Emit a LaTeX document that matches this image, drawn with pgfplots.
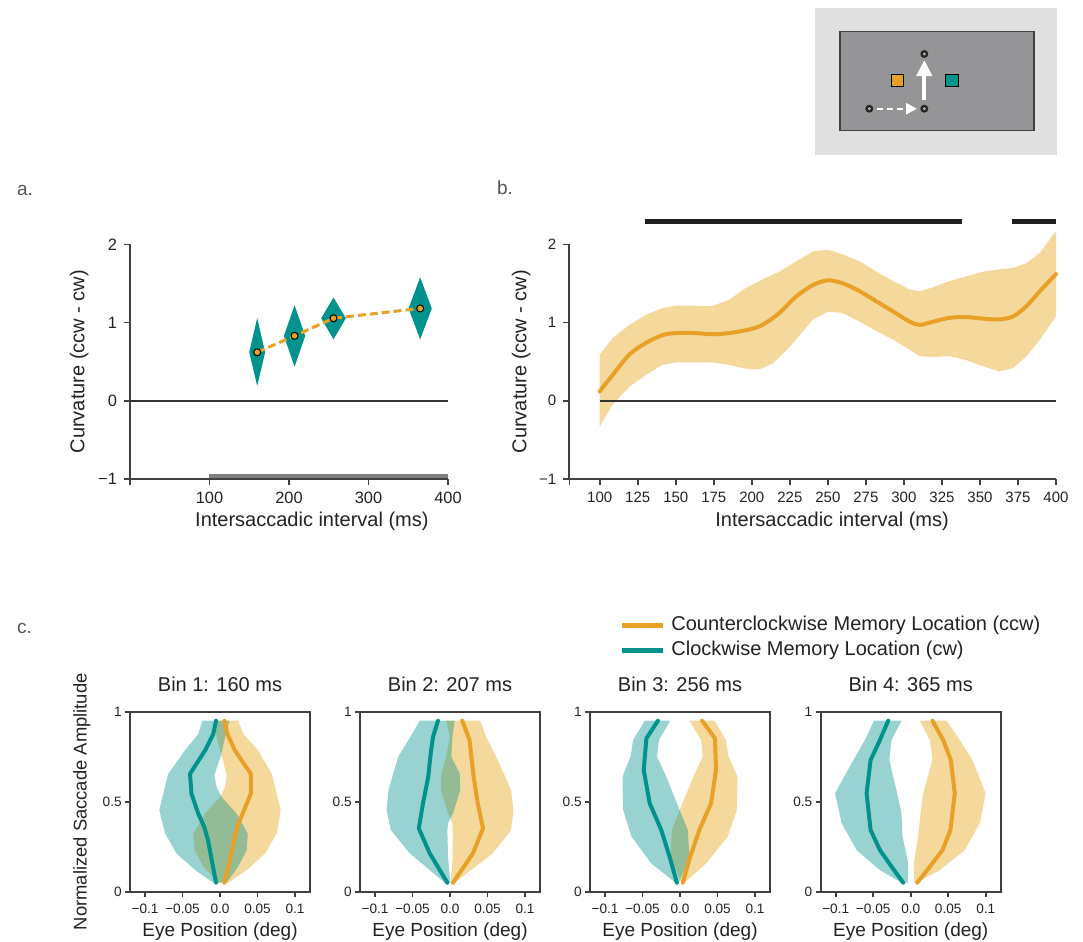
\documentclass[border=0pt]{standalone}
\usepackage{fontspec}
\setmainfont{Liberation Sans}
\usepackage{pgfplots}
\pgfplotsset{compat=1.18}
\usetikzlibrary{arrows.meta}

\definecolor{ccw}{RGB}{232,160,38}
\definecolor{cw}{RGB}{0,146,141}
\definecolor{ccwband}{RGB}{245,216,156}
\definecolor{axgray}{RGB}{64,64,64}
\definecolor{txt}{RGB}{34,34,34}
\definecolor{panellab}{RGB}{85,85,85}
\definecolor{insetout}{RGB}{224,224,224}
\definecolor{insetin}{RGB}{149,149,151}

\pgfplotsset{
  panelab/.style={
    scale only axis, height=117.35pt,
    ymin=-1, ymax=2, ytick={-1,0,1,2}, yticklabels={−1,0,1,2},
    axis x line*=bottom, axis y line*=left,
    axis line style={axgray, line width=1pt, -},
    xtick pos=left, ytick pos=left,
    tick style={axgray, line width=0.8pt}, tick align=outside, major tick length=3pt,
    ticklabel style={text=txt},
    xlabel={Intersaccadic interval (ms)}, ylabel={Curvature (ccw - cw)},
    label style={font=\fontsize{10}{12}\selectfont, text=txt},
    xlabel style={anchor=center}, ylabel style={anchor=center},
    clip=false},
  binax/.style={
    scale only axis, width=90pt, height=90pt,
    xmin=-0.12, xmax=0.12, ymin=0, ymax=1,
    xtick={-0.1,-0.05,0,0.05,0.1}, xticklabels={−0.1,−0.05,0.0,0.05,0.1},
    ytick={0,0.5,1}, yticklabels={0,0.5,1},
    xtick pos=left, ytick pos=left,
    axis line style={axgray, line width=1pt},
    tick style={axgray, line width=0.8pt}, tick align=outside, major tick length=2.5pt,
    ticklabel style={font=\fontsize{6.8}{8}\selectfont, text=txt},
    yticklabel style={inner sep=1.5pt},
    xlabel={Eye Position (deg)},
    xlabel style={font=\fontsize{9.5}{11}\selectfont, text=txt,
      at={(axis description cs:0.5,-0.222)}, anchor=center},
    title style={font=\fontsize{10}{12}\selectfont, text=txt,
      at={(axis description cs:0.5,1.087)}, anchor=center}},
  ccwfill/.style={draw=none, fill=ccwband},
  cwfill/.style={draw=none, fill=cw, fill opacity=0.4},
  cwline/.style={cw, line width=2pt, line join=round, line cap=round},
  ccwline/.style={ccw, line width=2pt, line join=round, line cap=round}
}

\begin{document}
\begin{tikzpicture}
\useasboundingbox (0,0) rectangle (541.5pt,-471pt);

% task schematic (top right)
\fill[insetout] (407.5pt,-4.15pt) rectangle (528.35pt,-77.5pt);
\filldraw[fill=insetin, draw=axgray, line width=0.6pt] (420pt,-15.85pt) rectangle (517pt,-65.35pt);
\draw[white, line width=2pt, -{Triangle[length=8pt,width=7.5pt]}] (462.15pt,-50pt) -- (462.15pt,-30pt);
\draw[white, line width=1.2pt, dash pattern=on 3pt off 2pt, -{Triangle[length=5.5pt,width=5.5pt]}]
  (438.5pt,-54.35pt) -- (458.5pt,-54.35pt);
\foreach \p in {(462.15pt,-27pt),(462.15pt,-54.35pt),(434.65pt,-54.35pt)} {
  \fill[black!85] \p circle (2pt);
  \fill[insetin!60!white] \p circle (0.75pt);
}
\filldraw[fill=ccw, draw=black, line width=0.5pt] (445.55pt,-37.05pt) rectangle (451.75pt,-43.25pt);
\filldraw[fill=cw, draw=black, line width=0.5pt] (472.9pt,-37.05pt) rectangle (479.1pt,-43.25pt);

% panel letters
\node[anchor=west, text=panellab, font=\fontsize{9.5}{11}\selectfont] at (5pt,-95pt) {a.};
\node[anchor=west, text=panellab, font=\fontsize{9.5}{11}\selectfont] at (245pt,-94pt) {b.};
\node[anchor=west, text=panellab, font=\fontsize{9.5}{11}\selectfont] at (5pt,-314pt) {c.};

% ---- panel a ----
\begin{axis}[panelab, at={(65pt,-239.5pt)}, width=159pt, xmin=0, xmax=400,
  xtick={0,100,200,300,400}, xticklabels={,100,200,300,400},
  ticklabel style={font=\fontsize{8.2}{9.5}\selectfont},
  xlabel style={at={(axis description cs:0.572,-0.182)}},
  ylabel style={at={(axis description cs:-0.16,0.5)}}]
\addplot[draw=none, fill=black!50] coordinates {(100,-0.99) (400,-0.99) (400,-0.935) (100,-0.935)} --cycle;
\addplot[black!80, line width=0.8pt] coordinates {(0,0) (400,0)};
\addplot[draw=none, fill=cw] coordinates {(150,0.62) (160,1.057) (170,0.62) (160,0.19)} --cycle;
\addplot[draw=none, fill=cw] coordinates {(193.6,0.83) (207,1.22) (220.4,0.83) (207,0.435)} --cycle;
\addplot[draw=none, fill=cw] coordinates {(240.5,1.055) (256,1.32) (271.5,1.055) (256,0.785)} --cycle;
\addplot[draw=none, fill=cw] coordinates {(350.4,1.18) (365,1.578) (379.6,1.18) (365,0.785)} --cycle;
\addplot[ccw, line width=1.5pt, dash pattern=on 4pt off 2pt] coordinates {(160,0.62) (207,0.83) (256,1.055) (365,1.18)};
\addplot[only marks, mark=*, mark size=1.75pt, mark options={fill=ccw, draw=black, line width=0.5pt}]
  coordinates {(160,0.62) (207,0.83) (256,1.055) (365,1.18)};
\end{axis}

% ---- panel b ----
\begin{axis}[panelab, at={(284.65pt,-239.5pt)}, width=243.35pt, xmin=80, xmax=400,
  xtick={80,100,125,150,175,200,225,250,275,300,325,350,375,400},
  xticklabels={,100,125,150,175,200,225,250,275,300,325,350,375,400},
  ticklabel style={font=\fontsize{7.5}{8.5}\selectfont},
  xlabel style={at={(axis description cs:0.54,-0.182)}},
  ylabel style={at={(axis description cs:-0.099,0.5)}}]
% confidence band: upper edge left to right, lower edge right to left
\addplot[draw=none, fill=ccwband] coordinates {
 (100,0.59) (108.5,0.80) (119.5,0.97) (130.4,1.10) (141.4,1.185) (150,1.215) (163,1.215)
 (174,1.21) (185,1.29) (196,1.44) (207,1.55) (218,1.65) (229,1.78) (240.3,1.91) (250,1.93)
 (260,1.87) (271,1.78) (282,1.65) (293,1.53) (304,1.42) (310.5,1.40) (319,1.45) (330,1.53)
 (341,1.59) (352,1.65) (363,1.68) (372,1.70) (380.6,1.76) (389.4,1.89) (400,2.17)
 (400,1.08) (389.4,0.78) (380.6,0.57) (372,0.42) (363,0.375) (352,0.44) (341,0.52) (330,0.57)
 (319,0.56) (310.5,0.57) (304,0.65) (293,0.78) (282,0.89) (271,1.01) (260,1.12) (250,1.14)
 (240.3,1.04) (231.5,0.84) (225,0.69) (214,0.48) (205,0.40) (196,0.41) (185,0.46) (174,0.49)
 (163,0.49) (150,0.49) (141.4,0.46) (130.4,0.33) (119.5,0.18) (108.5,-0.05) (100,-0.33)} --cycle;
\addplot[black!80, line width=0.8pt] coordinates {(100,0) (400,0)};
\addplot[ccwline, smooth] coordinates {
 (100,0.12) (108.5,0.33) (119.5,0.59) (130.4,0.74) (141.4,0.84) (150,0.865) (163,0.865)
 (174,0.85) (185,0.865) (198,0.91) (207,0.97) (218,1.12) (229,1.33) (240.3,1.48) (250,1.54)
 (260,1.50) (271,1.40) (282,1.27) (293,1.14) (304,1.01) (310.5,0.97) (319,1.01) (330,1.06)
 (341,1.07) (352,1.05) (363,1.04) (372,1.08) (380.6,1.21) (389.4,1.40) (400,1.62)};
% significance bars
\addplot[black!88, line width=2.5pt] coordinates {(130,2.29) (338,2.29)};
\addplot[black!88, line width=2.5pt] coordinates {(371,2.29) (400,2.29)};
\end{axis}

% ---- legend for panel c ----
\draw[ccw, line width=2.5pt] (311pt,-312.85pt) -- (331.5pt,-312.85pt);
\draw[cw, line width=2.5pt] (311pt,-325pt) -- (331.5pt,-325pt);
\node[anchor=west, text=txt, font=\fontsize{10}{12}\selectfont, inner sep=0pt] at (335.5pt,-312.85pt) {Counterclockwise Memory Location (ccw)};
\node[anchor=west, text=txt, font=\fontsize{10}{12}\selectfont, inner sep=0pt] at (335.5pt,-325pt) {Clockwise Memory Location (cw)};

% ---- panel c, bin 1 ----
\begin{axis}[binax, at={(65pt,-445.85pt)}, title={Bin 1: 160 ms},
  ylabel={Normalized Saccade Amplitude},
  ylabel style={font=\fontsize{9.2}{11}\selectfont, text=txt, at={(axis description cs:-0.268,0.5)}, anchor=center}]
\addplot[ccwfill] coordinates {
 (-0.0076,0.95) (-0.0044,0.858) (0.0022,0.756) (0.0089,0.646) (0.0067,0.581) (0.0,0.526)
 (-0.02,0.434) (-0.0356,0.323) (-0.034,0.231) (-0.022,0.138) (-0.0022,0.05)
 (0.011,0.05) (0.0356,0.12) (0.06,0.212) (0.0756,0.323) (0.081,0.452) (0.069,0.655)
 (0.051,0.784) (0.031,0.876) (0.0244,0.95)} --cycle;
\addplot[cwfill] coordinates {
 (-0.0236,0.95) (-0.029,0.876) (-0.047,0.784) (-0.069,0.655) (-0.081,0.452) (-0.073,0.323)
 (-0.058,0.212) (-0.033,0.12) (-0.009,0.05)
 (0.0089,0.05) (0.024,0.138) (0.0356,0.231) (0.037,0.323) (0.022,0.434) (0.0022,0.526)
 (-0.0044,0.581) (-0.0076,0.646) (0.0013,0.756) (0.0067,0.858) (0.0124,0.95)} --cycle;
\addplot[cwline] coordinates {
 (-0.0053,0.95) (-0.009,0.876) (-0.02,0.784) (-0.04,0.655) (-0.038,0.544) (-0.029,0.434)
 (-0.021,0.36) (-0.016,0.286) (-0.011,0.175) (-0.0053,0.05)};
\addplot[ccwline] coordinates {
 (0.0058,0.95) (0.0098,0.876) (0.02,0.784) (0.041,0.655) (0.041,0.544) (0.032,0.452)
 (0.023,0.36) (0.0187,0.286) (0.0133,0.175) (0.0058,0.05)};
\end{axis}

% ---- bin 2 ----
\begin{axis}[binax, at={(180pt,-445.85pt)}, title={Bin 2: 207 ms}]
\addplot[ccwfill] coordinates {
 (-0.0049,0.95) (-0.0004,0.861) (-0.0049,0.75) (-0.0115,0.657) (-0.0124,0.565) (-0.0026,0.435)
 (0.0031,0.38) (0.004,0.306) (0.003,0.157) (0.0009,0.05)
 (0.0062,0.05) (0.057,0.213) (0.0815,0.343) (0.0846,0.454) (0.0815,0.565) (0.0616,0.75)
 (0.048,0.861) (0.0403,0.95)} --cycle;
\addplot[cwfill] coordinates {
 (-0.0403,0.95) (-0.0527,0.861) (-0.069,0.75) (-0.082,0.565) (-0.0846,0.454) (-0.079,0.343)
 (-0.0536,0.213) (-0.007,0.05)
 (0.0005,0.05) (-0.0026,0.194) (-0.0035,0.343) (-0.0026,0.38) (0.004,0.435) (0.0137,0.565)
 (0.0129,0.657) (0.0018,0.75) (0.0031,0.861) (0.0062,0.95)} --cycle;
\addplot[cwline] coordinates {
 (-0.016,0.95) (-0.0226,0.861) (-0.0257,0.769) (-0.029,0.639) (-0.036,0.491) (-0.0416,0.352)
 (-0.027,0.213) (-0.0035,0.05)};
\addplot[ccwline] coordinates {
 (0.0164,0.95) (0.026,0.843) (0.0315,0.639) (0.037,0.491) (0.044,0.352) (0.0306,0.213) (0.004,0.05)};
\end{axis}

% ---- bin 3 ----
\begin{axis}[binax, at={(295pt,-445.85pt)}, title={Bin 3: 256 ms}]
\addplot[ccwfill] coordinates {
 (0.0126,0.95) (0.0281,0.843) (0.0303,0.75) (0.0179,0.639) (-0.0006,0.454) (-0.0108,0.343)
 (-0.0126,0.194) (0.0016,0.05)
 (0.006,0.05) (0.0347,0.157) (0.0635,0.306) (0.0758,0.454) (0.0767,0.639) (0.0648,0.75)
 (0.0613,0.843) (0.0458,0.95)} --cycle;
\addplot[cwfill] coordinates {
 (-0.047,0.95) (-0.0625,0.843) (-0.066,0.75) (-0.0767,0.639) (-0.0758,0.454) (-0.0647,0.306)
 (-0.0382,0.157) (-0.006,0.05)
 (-0.0015,0.05) (0.0126,0.194) (0.0104,0.343) (-0.0006,0.454) (-0.0183,0.639) (-0.0307,0.75)
 (-0.028,0.843) (-0.013,0.95)} --cycle;
\addplot[cwline] coordinates {
 (-0.0294,0.95) (-0.0448,0.852) (-0.0484,0.676) (-0.0404,0.491) (-0.025,0.343) (-0.0139,0.194) (-0.0042,0.05)};
\addplot[ccwline] coordinates {
 (0.0294,0.95) (0.0467,0.852) (0.048,0.676) (0.0414,0.491) (0.0259,0.343) (0.0135,0.194) (0.0038,0.05)};
\end{axis}

% ---- bin 4 ----
\begin{axis}[binax, at={(410.35pt,-445.85pt)}, title={Bin 4: 365 ms}]
\addplot[ccwfill] coordinates {
 (0.0122,0.95) (0.0255,0.843) (0.029,0.731) (0.0166,0.546) (0.0131,0.435) (0.01,0.306)
 (0.0042,0.157) (0.0042,0.05)
 (0.0078,0.05) (0.0388,0.12) (0.072,0.231) (0.092,0.38) (0.1,0.546) (0.0823,0.731)
 (0.0654,0.843) (0.0477,0.95)} --cycle;
\addplot[cwfill] coordinates {
 (-0.049,0.95) (-0.061,0.843) (-0.0765,0.731) (-0.101,0.546) (-0.092,0.38) (-0.072,0.231)
 (-0.041,0.12) (-0.0122,0.05)
 (-0.0033,0.05) (-0.0033,0.157) (-0.0109,0.306) (-0.0122,0.435) (-0.018,0.546) (-0.0286,0.731)
 (-0.0255,0.843) (-0.0122,0.95)} --cycle;
\addplot[cwline] coordinates {
 (-0.03,0.95) (-0.041,0.843) (-0.0535,0.731) (-0.0588,0.546) (-0.0535,0.343) (-0.041,0.231)
 (-0.0255,0.139) (-0.01,0.05)};
\addplot[ccwline] coordinates {
 (0.029,0.95) (0.0433,0.843) (0.0535,0.731) (0.0588,0.546) (0.053,0.343) (0.0424,0.231)
 (0.0255,0.139) (0.0087,0.05)};
\end{axis}
\end{tikzpicture}
\end{document}
